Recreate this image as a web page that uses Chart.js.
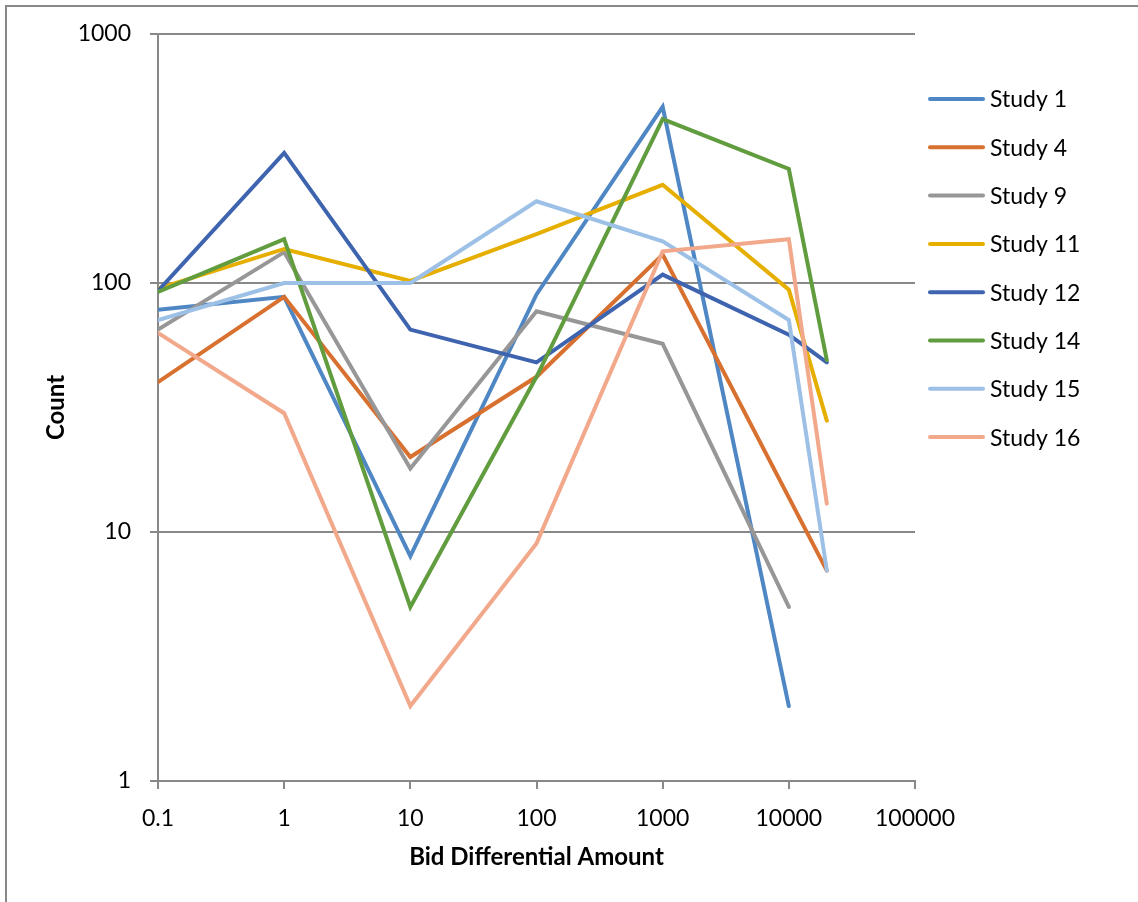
<!DOCTYPE html>
<html>
<head>
<meta charset="utf-8">
<script src="https://cdn.jsdelivr.net/npm/chart.js@4.4.1/dist/chart.umd.min.js"></script>
<style>
  html, body { margin: 0; padding: 0; background: #ffffff; }
  #wrap { width: 1138px; height: 902px; }
</style>
</head>
<body>
<div id="wrap"><canvas id="chart" width="1138" height="902"></canvas></div>
<script>
// Bid differential amounts (x) and counts per study (y); null = no observation
const xValues = [0.1, 1, 10, 100, 1000, 10000, 20000];
const study1  = [78, 88, 8, 90, 510, 2, null];
const study4  = [40, 88, 20, 42, 130, null, 7];
const study9  = [65, 133, 18, 77, 57, 5, null];
const study11 = [95, 137, 102, 157, 248, 94, 28];
const study12 = [93, 333, 65, 48, 108, 62, 48];
const study14 = [92, 150, 5, 42, 455, 287, 49];
const study15 = [71, 100, 100, 213, 147, 71, 7];
const study16 = [63, 30, 2, 9, 134, 150, 13];

const seriesNames = ['Study 1', 'Study 4', 'Study 9', 'Study 11', 'Study 12', 'Study 14', 'Study 15', 'Study 16'];
const seriesValues = [study1, study4, study9, study11, study12, study14, study15, study16];
const seriesColors = ['#4F87C4', '#D8712F', '#979797', '#E6AF00', '#3E64AF', '#619C3F', '#9CC0E6', '#F2A98B'];

const xTickValues = [0.1, 1, 10, 100, 1000, 10000, 100000];
const xTickLabels = ['0.1', '1', '10', '100', '1000', '10000', '100000'];
const yTickValues = [1, 10, 100, 1000];
const yTickLabels = ['1', '10', '100', '1000'];

const FONT = 'Lato, "Open Sans", sans-serif';
const AXIS_GRAY = '#888888';

const datasets = seriesNames.map((name, i) => ({
  label: name,
  data: xValues.map((x, j) => ({ x: x, y: seriesValues[i][j] })).filter(p => p.y !== null),
  borderColor: seriesColors[i],
  backgroundColor: seriesColors[i],
  borderWidth: 4,
  pointRadius: 0,
  pointHoverRadius: 0,
  showLine: true,
  tension: 0,
  borderCapStyle: 'round',
  borderJoinStyle: 'miter',
  order: seriesNames.length - i
}));

// Outer frame of the chart
const framePlugin = {
  id: 'frame',
  beforeDraw(chart) {
    const ctx = chart.ctx;
    ctx.save();
    ctx.fillStyle = '#ffffff';
    ctx.fillRect(0, 0, chart.width, chart.height);
    ctx.strokeStyle = AXIS_GRAY;
    ctx.lineWidth = 2;
    ctx.strokeRect(6, 6, chart.width + 10, chart.height + 10);
    ctx.restore();
  }
};

// Legend listing each series with a line sample
const sideLegend = {
  id: 'sideLegend',
  afterDraw(chart) {
    const ctx = chart.ctx;
    const x0 = 930, x1 = 983, textX = 990, y0 = 99, step = 48.3;
    ctx.save();
    ctx.font = '23px ' + FONT;
    ctx.textBaseline = 'middle';
    ctx.textAlign = 'left';
    chart.data.datasets.forEach((ds, i) => {
      const y = y0 + i * step;
      ctx.strokeStyle = ds.borderColor;
      ctx.lineWidth = 4;
      ctx.lineCap = 'round';
      ctx.beginPath();
      ctx.moveTo(x0, y);
      ctx.lineTo(x1, y);
      ctx.stroke();
      ctx.fillStyle = '#000000';
      ctx.fillText(ds.label, textX, y + 1);
    });
    ctx.restore();
  }
};

new Chart(document.getElementById('chart'), {
  type: 'scatter',
  data: { datasets: datasets },
  plugins: [framePlugin, sideLegend],
  options: {
    responsive: false,
    animation: false,
    events: [],
    layout: { padding: { left: 0, top: 34, right: 223, bottom: 0 } },
    plugins: {
      legend: { display: false },
      tooltip: { enabled: false },
      title: { display: false }
    },
    scales: {
      x: {
        type: 'logarithmic',
        position: 'bottom',
        min: 0.1,
        max: 100000,
        afterBuildTicks(scale) { scale.ticks = xTickValues.map(v => ({ value: v, major: true })); },
        afterFit(scale) { scale.height = 121; },
        ticks: {
          autoSkip: false,
          maxRotation: 0,
          minRotation: 0,
          padding: 16,
          color: '#000000',
          font: { family: FONT, size: 23 },
          callback(value, index) { return xTickLabels[index]; }
        },
        grid: {
          drawOnChartArea: false,
          drawTicks: true,
          tickLength: 8,
          color: AXIS_GRAY,
          lineWidth: 2
        },
        border: { display: true, color: AXIS_GRAY, width: 2 },
        title: {
          display: true,
          text: 'Bid Differential Amount',
          color: '#000000',
          font: { family: FONT, size: 24, weight: 'bold' },
          padding: { top: 0, bottom: 30 }
        }
      },
      y: {
        type: 'logarithmic',
        position: 'left',
        min: 1,
        max: 1000,
        afterBuildTicks(scale) { scale.ticks = yTickValues.map(v => ({ value: v, major: true })); },
        afterFit(scale) { scale.width = 158; },
        ticks: {
          autoSkip: false,
          padding: 19,
          color: '#000000',
          font: { family: FONT, size: 23 },
          callback(value, index) { return yTickLabels[index]; }
        },
        grid: {
          drawOnChartArea: true,
          drawTicks: true,
          tickLength: 8,
          color: AXIS_GRAY,
          lineWidth: 2
        },
        border: { display: true, color: AXIS_GRAY, width: 2 },
        title: {
          display: true,
          text: 'Count',
          color: '#000000',
          font: { family: FONT, size: 24, weight: 'bold' },
          padding: { top: 42, bottom: 0 }
        }
      }
    }
  }
});
</script>
</body>
</html>
